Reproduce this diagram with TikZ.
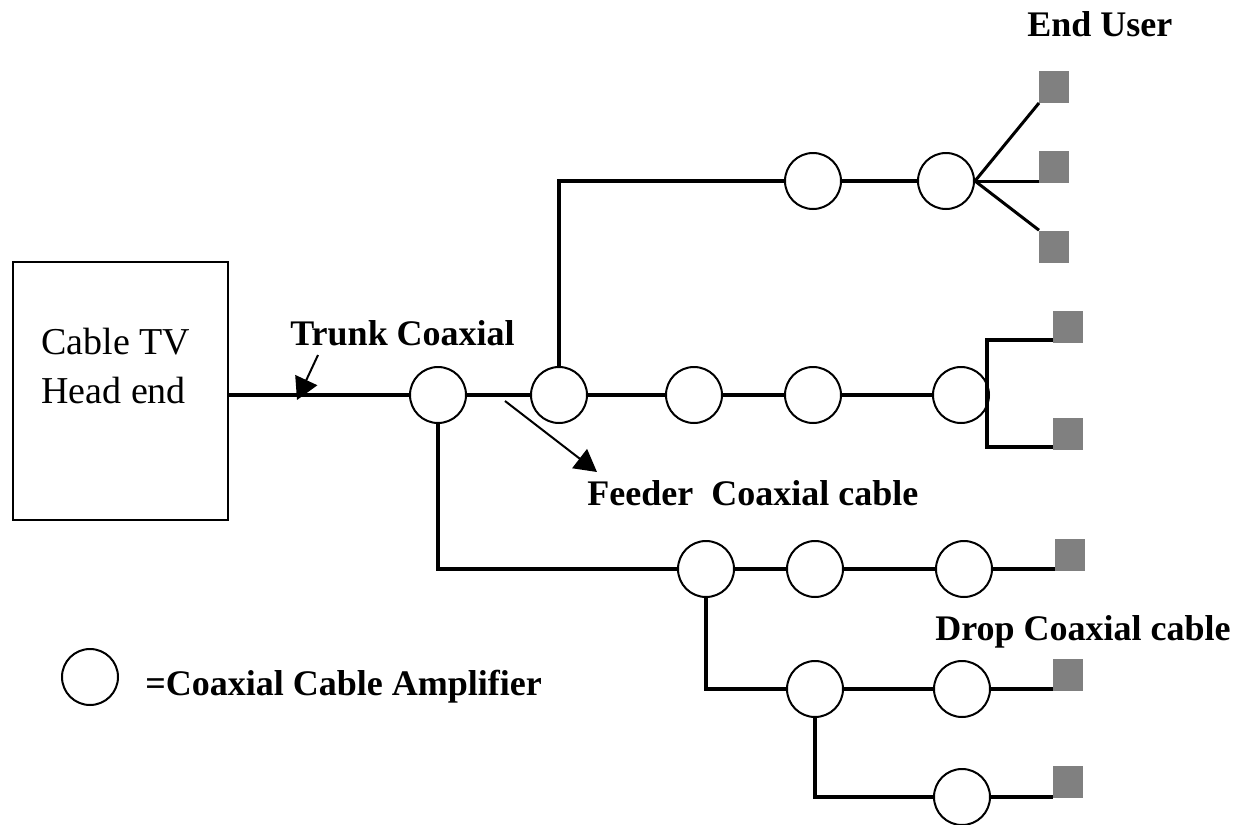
\documentclass[tikz,border=0pt]{standalone}
\usepackage{fontspec}
\setmainfont{Liberation Serif}
\definecolor{usergray}{RGB}{128,128,128}
\usetikzlibrary{arrows.meta,calc}
\tikzset{
  amp/.style={draw, circle, line width=1pt, fill=white, minimum size=28pt, inner sep=0pt},
  user/.style={fill=usergray, minimum width=15pt, minimum height=16pt, inner sep=0pt, anchor=south west},
  hub/.style={draw, line width=1pt, minimum width=107.5pt, minimum height=129pt},
  trunk/.style={line width=2pt},
  feeder/.style={line width=1.6pt},
  drop/.style={line width=2.4pt},
  fan/.style={line width=1.5pt},
  lbl/.style={font=\bfseries\fontsize{18}{21}\selectfont, inner sep=0pt, anchor=base west},
  pointer/.style={-{Triangle[length=11pt,width=12pt]}, line width=1pt},
}
\begin{document}
\begin{tikzpicture}[x=0.5pt, y=-0.5pt]
  \useasboundingbox (0,0) rectangle (1233,825);
  % head end
  \node[hub] (head) at (120,391) {};
  \node[font=\fontsize{19}{24.5}\selectfont, align=left, inner sep=0pt, anchor=west] (headtxt) at (41,366) {Cable TV\\Head end};
  % trunk row
  \node[amp] (a1) at (438,395) {};
  \node[amp] (a2) at (559,395) {};
  \node[amp] (a3) at (694,395) {};
  \node[amp] (a4) at (813,395) {};
  \node[amp] (a5) at (961,395) {};
  \coordinate (fork) at (987,395);
  % top branch
  \node[amp] (t1) at (813,181) {};
  \node[amp] (t2) at (946,181) {};
  % lower branches
  \node[amp] (b1) at (706,569) {};
  \node[amp] (b2) at (815,569) {};
  \node[amp] (b3) at (964,569) {};
  \node[amp] (c1) at (815,689) {};
  \node[amp] (c2) at (962,689) {};
  \node[amp] (d1) at (962,797) {};
  % end users
  \node[user] (u1) at (1039,103) {};
  \node[user] (u2) at (1039,183) {};
  \node[user] (u3) at (1039,263) {};
  \node[user] (u4) at (1053,343) {};
  \node[user] (u5) at (1053,450) {};
  \node[user] (u6) at (1055,571) {};
  \node[user] (u7) at (1053,691) {};
  \node[user] (u8) at (1053,798) {};

  \draw[trunk] (a1 -| head.east) -- (a1);
  \draw[trunk] (a1) -- (a2);
  \draw[trunk] (a2) -- (a3);
  \draw[trunk] (a3) -- (a4);
  \draw[trunk] (a4) -- (a5);
  \draw[trunk] (a2) |- (t1);
  \draw[trunk] (t1) -- (t2);
  \draw[fan] (t2.east) -- (u1.south west);
  \draw[fan] (t2.east) -- (t2.east -| u2.west);
  \draw[fan] (t2.east) -- (u3.north west);
  \draw[trunk] ($(u4.south west)+(0,-3)$) -| (fork) |- ($(u5.south west)+(0,-3)$);
  \draw[trunk] (a1) |- (b1);
  \draw[feeder] (b1) -- (b2);
  \draw[feeder] (b2) -- (b3);
  \draw[feeder] (b3) -- (b3 -| u6.west);
  \draw[drop] (b1) |- (c1);
  \draw[drop] (c1) -- (c2);
  \draw[drop] (c2) -- (c2 -| u7.west);
  \draw[drop] (c1) |- (d1);
  \draw[drop] (d1) -- (d1 -| u8.west);

  % labels and pointers
  \node[lbl] (trunklbl) at (290,345) {Trunk Coaxial};
  \node[lbl] (feederlbl) at (587,505) {Feeder\ \ Coaxial cable};
  \node[lbl] (userlbl) at (1027,36) {End User};
  \node[lbl] (droplbl) at (935,640) {Drop Coaxial cable};
  \coordinate (p1s) at (318,355);
  \coordinate (p1e) at (297,400);
  \coordinate (p2s) at (505,401);
  \coordinate (p2e) at (597,472);
  \draw[pointer] (p1s) -- (p1e);
  \draw[pointer] (p2s) -- (p2e);

  % legend
  \node[amp] (key) at (90,677) {};
  \node[lbl] (keylbl) at (145,695) {=Coaxial Cable Amplifier};
\end{tikzpicture}
\end{document}
